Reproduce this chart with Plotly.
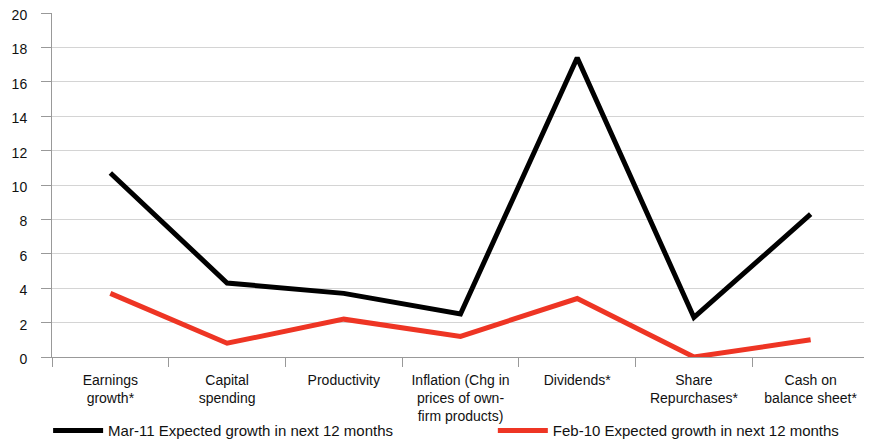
import plotly.graph_objects as go

categories = ["Earnings<br>growth*", "Capital<br>spending", "Productivity",
              "Inflation (Chg in<br>prices of own-<br>firm products)", "Dividends*",
              "Share<br>Repurchases*", "Cash on<br>balance sheet*"]
mar11 = [10.7, 4.3, 3.7, 2.5, 17.4, 2.3, 8.3]
feb10 = [3.7, 0.8, 2.2, 1.2, 3.4, 0.0, 1.0]
y_ticks = [0, 2, 4, 6, 8, 10, 12, 14, 16, 18, 20]

font = "Liberation Sans, Arial, Helvetica, sans-serif"

fig = go.Figure()
fig.add_trace(go.Scatter(x=categories, y=mar11, mode="lines",
                         name="Mar-11 Expected growth in next 12 months",
                         line=dict(color="#000000", width=5), legend="legend"))
fig.add_trace(go.Scatter(x=categories, y=feb10, mode="lines",
                         name="Feb-10 Expected growth in next 12 months",
                         line=dict(color="#ee3524", width=5), legend="legend2"))

leg_common = dict(orientation="h", xanchor="left", xref="container", yref="container",
                  y=0.081, yanchor="top", font=dict(size=15), itemwidth=50,
                  bgcolor="rgba(0,0,0,0)")

fig.update_layout(
    width=872, height=442,
    margin=dict(l=44, r=11, t=5, b=93),
    paper_bgcolor="white", plot_bgcolor="white",
    font=dict(family=font, size=14, color="#111111"),
    showlegend=True,
    legend=dict(x=0.046, **leg_common),
    legend2=dict(x=0.556, **leg_common),
    xaxis=dict(type="category", range=[-0.5, 6.5], tickson="boundaries",
               ticks="outside", ticklen=9, tickcolor="#999999",
               showline=True, linecolor="#999999", linewidth=1,
               showgrid=False, tickfont=dict(size=14), tickangle=0,
               ticklabelstandoff=10, automargin=False),
    yaxis=dict(range=[0, 20], tickvals=y_ticks, ticks="outside", ticklen=10,
               tickcolor="#999999", showline=True, linecolor="#999999",
               gridcolor="#d4d4d4", gridwidth=1, zeroline=False,
               tickfont=dict(size=14), ticklabelstandoff=11, ticklabelshift=2,
               ticklabeloverflow="allow", automargin=False),
)

fig.write_html("out.html")
